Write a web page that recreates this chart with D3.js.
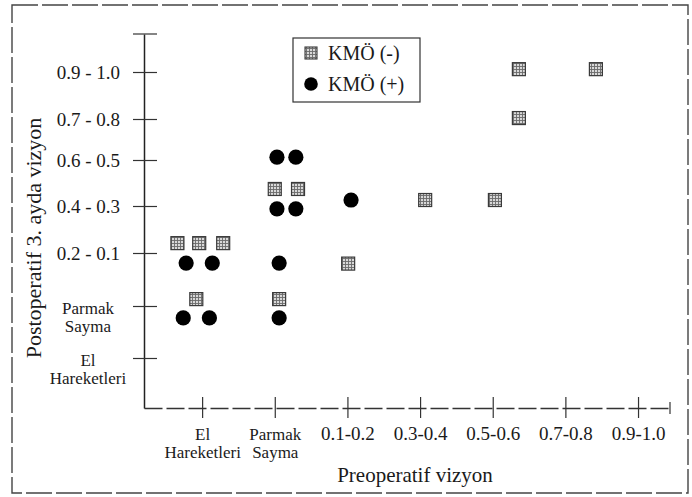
<!DOCTYPE html>
<html>
<head>
<meta charset="utf-8">
<script src="https://cdn.jsdelivr.net/npm/d3@7"></script>
<style>
  html, body { margin: 0; padding: 0; background: #fff; }
  svg { display: block; }
  svg text { font-family: "Liberation Serif", "Times New Roman", serif !important; fill: #1a1a1a; }
</style>
</head>
<body>
<svg id="chart" width="692" height="497"></svg>
<script>
// ---- data (category indices; fractional part = position within the cluster) ----
const xCategories = ["El\nHareketleri", "Parmak\nSayma", "0.1-0.2", "0.3-0.4", "0.5-0.6", "0.7-0.8", "0.9-1.0"];
const yCategories = ["El\nHareketleri", "Parmak\nSayma", "0.2 - 0.1", "0.4 - 0.3", "0.6 - 0.5", "0.7 - 0.8", "0.9 - 1.0"];
const seriesNames = ["KMÖ (-)", "KMÖ (+)"];
const kmoNegX = [-0.34, -0.04, 0.29, -0.08, 1.00, 1.32, 1.06, 2.01, 3.07, 4.03, 4.36, 4.36, 5.42];
const kmoNegY = [2.21, 2.21, 2.21, 1.13, 3.37, 3.37, 1.13, 1.80, 3.13, 3.13, 6.06, 5.02, 6.06];
const kmoPosX = [1.03, 1.29, 1.03, 1.29, -0.22, 0.14, 1.06, -0.26, 0.10, 1.06, 2.05];
const kmoPosY = [4.07, 4.07, 2.94, 2.94, 1.81, 1.81, 1.81, 0.77, 0.77, 0.77, 3.13];
const xTitle = "Preoperatif vizyon";
const yTitle = "Postoperatif 3. ayda vizyon";

// ---- layout ----
const FONT = "Liberation Serif, Times New Roman, serif";
const svg = d3.select("#chart");
const axisX0 = 144, axisX1 = 670, axisYTop = 34, axisYBottom = 408;

const x = d3.scaleLinear().domain([-0.8, 6.44]).range([axisX0, axisX1]);
// hand-drawn axis: tick spacing is slightly irregular, so a piecewise scale is used
const y = d3.scaleLinear()
  .domain([-1, 0, 1, 2, 3, 4, 5, 6, 6.8])
  .range([axisYBottom, 358, 306, 253, 206, 160, 119, 72, axisYTop]);

// pattern for the hatched squares
const defs = svg.append("defs");
const pat = defs.append("pattern").attr("id", "grid").attr("patternUnits", "userSpaceOnUse")
  .attr("width", 3).attr("height", 3);
pat.append("rect").attr("width", 3).attr("height", 3).attr("fill", "#d8d8d8");
pat.append("path").attr("d", "M0,0.5H3M0.5,0V3").attr("stroke", "#6a6a6a").attr("stroke-width", 0.9);

// outer dashed frame
svg.append("rect").attr("x", 12).attr("y", 5).attr("width", 676).attr("height", 488)
  .attr("fill", "none").attr("stroke", "#444").attr("stroke-width", 1.4)
  .attr("stroke-dasharray", "26,4");

// ---- x axis ----
const gx = svg.append("g").attr("transform", `translate(0,${axisYBottom})`)
  .call(d3.axisBottom(x).tickValues(d3.range(xCategories.length)).tickSize(10).tickSizeOuter(0)
    .tickFormat(i => xCategories[i]));
gx.attr("font-family", FONT);
gx.select(".domain").attr("stroke", "#333").attr("stroke-width", 1.3).attr("stroke-dasharray", "18,4");
gx.selectAll(".tick line").attr("y1", -11).attr("stroke", "#333").attr("stroke-width", 1.2);
gx.selectAll(".tick text").each(function (i) {
  const t = d3.select(this);
  const lines = xCategories[i].split("\n");
  t.text(null).attr("y", 0).attr("dy", null).attr("fill", "#1a1a1a")
    .attr("font-size", lines.length > 1 ? 17 : 19);
  lines.forEach((ln, k) => t.append("tspan").attr("x", 0).attr("y", 32 + k * 18).text(ln));
});
// end cap of x axis
svg.append("line").attr("x1", x.range()[1]).attr("x2", x.range()[1])
  .attr("y1", axisYBottom - 6).attr("y2", axisYBottom + 6).attr("stroke", "#333").attr("stroke-width", 1.2);

// ---- y axis ----
const gy = svg.append("g").attr("transform", `translate(${axisX0},0)`)
  .call(d3.axisLeft(y).tickValues(d3.range(yCategories.length)).tickSize(11).tickSizeOuter(0)
    .tickFormat(i => yCategories[i]));
gy.attr("font-family", FONT);
gy.select(".domain").attr("stroke", "#222").attr("stroke-width", 1.5);
gy.selectAll(".tick line").attr("x1", 13).attr("stroke", "#333").attr("stroke-width", 1.2);
gy.selectAll(".tick text").each(function (i) {
  const t = d3.select(this);
  const lines = yCategories[i].split("\n");
  t.attr("fill", "#1a1a1a");
  if (lines.length > 1) {
    t.text(null).attr("text-anchor", "middle").attr("dy", null).attr("font-size", 17);
    lines.forEach((ln, k) => t.append("tspan").attr("x", -56).attr("y", 7 + k * 18).text(ln));
  } else {
    t.attr("x", -24).attr("font-size", 19);
  }
});
// top cap of y axis
svg.append("line").attr("x1", axisX0 - 11).attr("x2", axisX0 + 13)
  .attr("y1", axisYTop).attr("y2", axisYTop).attr("stroke", "#333").attr("stroke-width", 1.2);

// ---- titles ----
svg.append("text").attr("x", 415).attr("y", 482).attr("text-anchor", "middle")
  .attr("font-family", FONT).attr("font-size", 21).text(xTitle);
svg.append("text").attr("transform", "translate(41,238) rotate(-90)").attr("text-anchor", "middle")
  .attr("font-family", FONT).attr("font-size", 22).text(yTitle);

// ---- marks ----
const sq = 13;
svg.append("g").selectAll("rect").data(d3.range(kmoNegX.length)).join("rect")
  .attr("x", i => x(kmoNegX[i]) - sq / 2).attr("y", i => y(kmoNegY[i]) - sq / 2)
  .attr("width", sq).attr("height", sq)
  .attr("fill", "url(#grid)").attr("stroke", "#3a3a3a").attr("stroke-width", 1.2);
svg.append("g").selectAll("circle").data(d3.range(kmoPosX.length)).join("circle")
  .attr("cx", i => x(kmoPosX[i])).attr("cy", i => y(kmoPosY[i])).attr("r", 7.6)
  .attr("fill", "#000");

// ---- legend ----
const lg = svg.append("g");
lg.append("rect").attr("x", 293).attr("y", 38).attr("width", 127).attr("height", 64)
  .attr("fill", "#fff").attr("stroke", "#333").attr("stroke-width", 1.2);
lg.append("rect").attr("x", 305).attr("y", 47).attr("width", 12).attr("height", 12)
  .attr("fill", "url(#grid)").attr("stroke", "#3a3a3a").attr("stroke-width", 1.1);
lg.append("circle").attr("cx", 311).attr("cy", 84).attr("r", 6.8).attr("fill", "#000");
lg.selectAll("text").data(seriesNames).join("text")
  .attr("x", 328).attr("y", (d, i) => 60 + i * 31)
  .attr("font-family", FONT).attr("font-size", 20).text(d => d);
</script>
</body>
</html>
